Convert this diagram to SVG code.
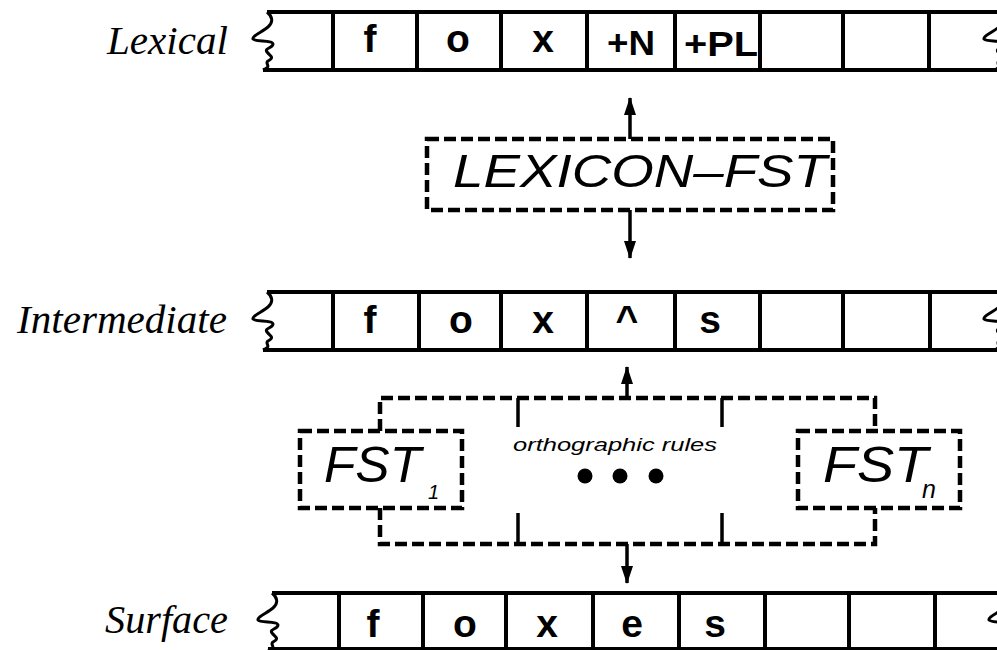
<svg xmlns="http://www.w3.org/2000/svg" xmlns:xlink="http://www.w3.org/1999/xlink" width="997" height="650" viewBox="0 0 997 650">
<style>
.tape{fill:none;stroke:#000;stroke-width:4}
.sq{fill:none;stroke:#000;stroke-width:3}
.cell{font-family:"Liberation Sans",Arial,sans-serif;font-weight:bold;font-size:39px;text-anchor:middle;fill:#000}
.lab{font-family:"Liberation Serif","Times New Roman",serif;font-style:italic;font-size:39px;fill:#000}
.fst{font-family:"Liberation Sans",Arial,sans-serif;font-style:italic;fill:#000}
.dash{fill:none;stroke:#000;stroke-width:4.5;stroke-dasharray:12 5}
.tick{fill:none;stroke:#000;stroke-width:3.5}
.con{fill:none;stroke:#000;stroke-width:3.5}
</style>
<defs>
<path id="sqp" d="M0,0 C5,4 7,10 1,15 C-5,20 -15,24 -14,27 C-12,30 6,28 6,32 C6,36 -3,36 0,40 C3,44 8,45 1,49 C-3,52 6,54 -4,58"/>
<marker id="ah" markerUnits="userSpaceOnUse" markerWidth="18" markerHeight="12" viewBox="0 0 18 12" refX="17" refY="6" orient="auto">
<path d="M0,0 L18,6 L0,12 Z" fill="#000"/>
</marker>
</defs>

<g id="lexical-tape">
<text class="lab" x="107" y="54" textLength="121" lengthAdjust="spacingAndGlyphs">Lexical</text>
<use xlink:href="#sqp" class="sq" transform="translate(267,12)"/>
<use xlink:href="#sqp" class="sq" transform="translate(998,12)"/>
<path class="tape" d="M267,12 H997 M263,70 H997 M333,12 V70 M417,12 V70 M501,12 V70 M587,12 V70 M675,12 V70 M760,12 V70 M843,12 V70 M929,12 V70"/>
<text class="cell" x="370" y="52">f</text>
<text class="cell" x="458" y="52">o</text>
<text class="cell" x="543" y="52">x</text>
<text class="cell" x="607" y="55" style="text-anchor:start;font-size:35px" textLength="48" lengthAdjust="spacingAndGlyphs">+N</text>
<text class="cell" x="684" y="56" style="text-anchor:start;font-size:35px" textLength="74" lengthAdjust="spacingAndGlyphs">+PL</text>
</g>

<g id="lexicon-fst">
<rect class="dash" x="427" y="139" width="406" height="71"/>
<text class="fst" x="453" y="187" font-size="47" textLength="374" lengthAdjust="spacingAndGlyphs">LEXICON–FST</text>
</g>

<g id="intermediate-tape">
<text class="lab" x="17" y="333" textLength="210" lengthAdjust="spacingAndGlyphs">Intermediate</text>
<use xlink:href="#sqp" class="sq" transform="translate(267,292)"/>
<use xlink:href="#sqp" class="sq" transform="translate(998,292)"/>
<path class="tape" d="M267,292 H997 M263,350 H997 M333,292 V350 M419,292 V350 M501,292 V350 M587,292 V350 M675,292 V350 M760,292 V350 M843,292 V350 M930,292 V350"/>
<text class="cell" x="370" y="333">f</text>
<text class="cell" x="461" y="333">o</text>
<text class="cell" x="543" y="333">x</text>
<text class="cell" x="627" y="333">^</text>
<text class="cell" x="710" y="333">s</text>
</g>

<g id="orthographic-rules">
<path class="dash" d="M380,431 V398 H875 V431"/>
<path class="dash" d="M380,508 V544 H875 V508"/>
<path class="tick" d="M518,398 V427 M722,398 V427 M518,513 V544 M722,513 V544"/>
<text class="fst" x="513" y="451" font-size="18" textLength="204" lengthAdjust="spacingAndGlyphs">orthographic rules</text>
<circle cx="585" cy="476" r="7.5"/>
<circle cx="620" cy="476" r="7.5"/>
<circle cx="656" cy="476" r="7.5"/>
</g>

<g id="fst-1">
<rect class="dash" x="300" y="431" width="162" height="77"/>
<text class="fst" x="324" y="482" font-size="50" textLength="97" lengthAdjust="spacingAndGlyphs">FST</text>
<text class="fst" x="428" y="499" font-size="20">1</text>
</g>

<g id="fst-n">
<rect class="dash" x="798" y="431" width="162" height="77"/>
<text class="fst" x="823" y="482" font-size="50" textLength="105" lengthAdjust="spacingAndGlyphs">FST</text>
<text class="fst" x="922" y="498" font-size="25">n</text>
</g>

<g id="surface-tape">
<text class="lab" x="105" y="633" textLength="123" lengthAdjust="spacingAndGlyphs">Surface</text>
<use xlink:href="#sqp" class="sq" transform="translate(272,593)"/>
<use xlink:href="#sqp" class="sq" transform="translate(1003,593)"/>
<path class="tape" d="M272,593 H997 M268,649 H997 M339,593 V650 M423,593 V650 M506,593 V650 M593,593 V650 M679,593 V650 M765,593 V650 M849,593 V650 M935,593 V650"/>
<text class="cell" x="373" y="637">f</text>
<text class="cell" x="465" y="637">o</text>
<text class="cell" x="547" y="637">x</text>
<text class="cell" x="632" y="637">e</text>
<text class="cell" x="715" y="637">s</text>
</g>

<g id="connectors">
<path class="con" d="M630,139 V98" marker-end="url(#ah)"/>
<path class="con" d="M630,210 V258" marker-end="url(#ah)"/>
<path class="con" d="M627,398 V367" marker-end="url(#ah)"/>
<path class="con" d="M627,544 V583" marker-end="url(#ah)"/>
</g>
</svg>
